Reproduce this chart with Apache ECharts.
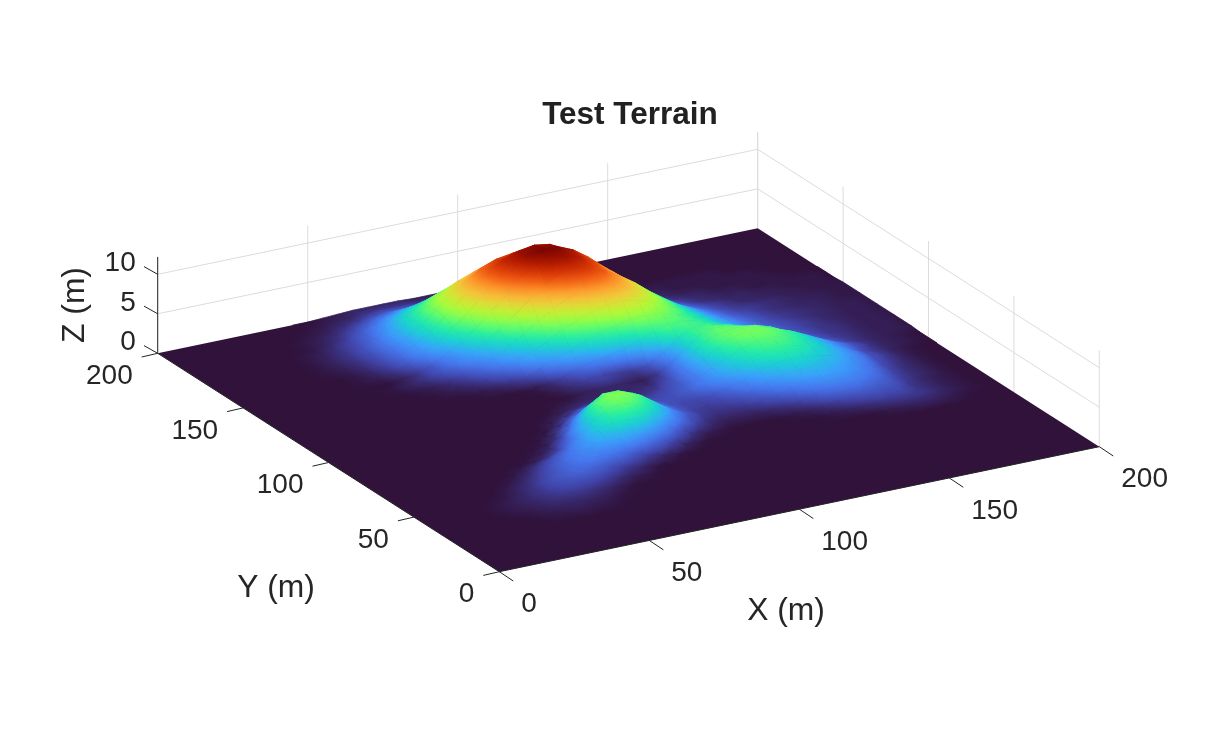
<!DOCTYPE html>
<html>
<head>
<meta charset="utf-8">
<title>Test Terrain</title>
<script src="https://cdn.jsdelivr.net/npm/echarts@6/dist/echarts.min.js"></script>
<style>html,body{margin:0;padding:0;background:#fff}#main{width:1215px;height:731px}</style>
</head>
<body>
<div id="main"></div>
<script>
var xTicks = [0, 50, 100, 150, 200];
var yTicks = [0, 50, 100, 150, 200];
var zTicks = [0, 5, 10];
var gridStep = 5; // metres between the samples of terrainZ
var zTop = 12.2;

// terrain height, one row per Y (0 to 200 m), one value per X
// trailing zeros are left out
var terrainZ = [
[],[],[],[],[],[],
[0,0,0,0,0,0,0,.1,.1,.2,.1,.1],
[0,0,0,0,0,0,.1,.2,.3,.3,.3,.2,.1],
[0,0,0,0,0,.1,.2,.3,.5,.6,.6,.5,.3,.1],
[0,0,0,0,0,.1,.2,.4,.6,.9,1,1,.8,.5,.2,.1],
[0,0,0,0,0,0,.1,.3,.6,1,1.3,1.5,1.4,1.1,.7,.4,.1],
[0,0,0,0,0,0,0,.2,.4,.8,1.2,1.6,1.9,1.9,1.7,1.3,.8,.4,.1,0,0,0,0,0,0,0,0,0,0,0,0,0,.1,.2,.3,.3,.2,.1],
[0,0,0,0,0,0,0,0,.2,.5,1,1.5,2,2.4,2.7,2.7,2.3,1.7,1,.4,.1,0,0,0,0,0,0,0,0,.1,.2,.4,.6,.7,.7,.6,.4,.2,.1],
[0,0,0,0,0,0,0,0,0,.2,.6,1.1,1.7,2.5,3.4,4,4,3.4,2.5,1.5,.7,.2,.1,0,0,0,0,.1,.2,.5,.9,1.1,1.2,1.1,1,.6,.4,.2,.1],
[0,0,0,0,0,0,0,0,0,0,.1,.4,1,2,3.4,4.8,5.3,5,4,2.8,1.7,.9,.4,.2,.2,.2,.3,.5,.9,1.4,1.7,1.8,1.7,1.5,1.2,.7,.4,.2,.1],
[0,0,0,0,0,0,0,0,0,0,0,.1,.4,1.4,3,5,5.7,5.6,4.8,3.5,2.2,1.3,.7,.5,.5,.6,.9,1.3,1.8,2.2,2.4,2.4,2.2,1.9,1.4,.8,.5,.3,.1],
[0,0,0,0,0,0,0,0,0,0,0,0,.1,.6,1.9,3.9,5.1,5.1,4.4,3.2,2,1.2,.8,.7,.8,1.1,1.6,2.2,2.7,3,3.1,2.9,2.6,2.1,1.6,.9,.5,.3,.1],
[0,0,0,0,0,0,0,0,0,0,0,0,0,.2,1,2.3,3.5,3.9,3.4,2.5,1.6,1.1,.9,.9,1.2,1.7,2.3,3,3.5,3.8,3.7,3.4,3,2.4,1.8,1,.6,.3,.1],
[0,0,0,0,0,0,0,0,0,0,0,0,0,0,.3,1.1,2,2.3,2.1,1.6,1.2,1,1.1,1.4,1.9,2.5,3.2,3.9,4.4,4.6,4.4,3.9,3.3,2.6,1.9,1.1,.7,.3,.1],
[0,0,0,0,0,0,0,0,0,0,0,0,0,0,.1,.4,.9,1.2,1.1,.9,.8,.8,1,1.3,1.9,2.8,3.7,4.5,5,5.1,4.8,4.2,3.4,2.6,1.8,1,.6,.3,.1],
[0,0,0,0,0,0,0,0,0,0,0,0,0,0,0,.1,.3,.5,.5,.5,.5,.5,.7,1.2,2,3.2,4.4,5.2,5.5,5.5,5,4.3,3.4,2.5,1.7,1.1,.6,.3,.2,.1],
[0,0,0,0,0,0,0,0,0,0,0,0,0,0,0,0,.1,.2,.3,.3,.3,.4,.4,.9,2,3.5,4.8,5.3,5.4,5.2,4.6,3.7,2.8,2,1.3,.8,.5,.3,.2,.1],
[0,0,0,0,0,0,0,0,0,0,0,0,0,0,0,0,0,0,.2,.3,.4,.3,.2,.6,1.8,3.4,4.7,5.2,4.9,4.4,3.6,2.8,2.1,1.5,1,.7,.5,.3,.2,.2,.1],
[0,0,0,0,0,0,0,0,0,0,0,0,0,0,0,0,0,.2,.5,.8,.9,.7,.6,1.2,2.4,3.9,4.7,4.7,4.3,3.7,3,2.3,1.7,1.2,.9,.6,.5,.3,.2,.2,.1],
[0,0,0,0,0,0,0,0,0,0,0,0,0,0,0,0,.1,.4,1,1.6,2.1,2.6,3,3.6,4.4,4.9,4.9,4.5,3.9,3.2,2.5,2,1.5,1.1,.8,.6,.5,.3,.2,.2,.1],
[0,0,0,0,0,0,0,0,0,0,0,0,0,.1,.2,.5,1,1.8,2.5,3.2,4,4.7,5.2,5.6,5.7,5.5,5.1,4.4,3.7,2.9,2.3,1.7,1.3,1,.8,.6,.4,.3,.2,.2,.1],
[0,0,0,0,0,0,0,0,0,0,0,.1,.2,.4,.9,1.5,2.3,3.1,4.1,5.1,5.9,6.6,7.1,7.2,6.9,6.3,5.5,4.5,3.6,2.8,2.1,1.6,1.2,.9,.7,.5,.4,.3,.2,.2,.1],
[0,0,0,0,0,0,0,0,0,0,.1,.2,.5,1,1.7,2.5,3.5,4.7,6,7.1,8.1,8.7,8.9,8.7,8,7,5.8,4.6,3.5,2.6,1.9,1.4,1.1,.8,.6,.5,.4,.3,.2,.2,.1],
[0,0,0,0,0,0,0,0,0,.1,.3,.6,1.1,1.8,2.6,3.7,5.1,6.5,8,9.2,10.2,10.6,10.4,9.7,8.6,7.3,5.8,4.5,3.3,2.4,1.7,1.2,.9,.7,.5,.4,.3,.3,.2,.1,.1],
[0,0,0,0,0,0,0,0,0,0,.2,.6,1.3,2.3,3.6,5,6.6,8.3,9.8,11,11.6,11.7,11.1,10,8.5,7,5.5,4,2.9,2,1.4,1,.7,.6,.5,.4,.3,.2,.2,.1,.1],
[0,0,0,0,0,0,0,0,.1,.2,.6,1.3,2.2,3.2,4.6,6.2,7.9,9.5,10.9,11.9,12.2,12.1,11.3,10,8.3,6.5,4.7,3.4,2.3,1.6,1.1,.8,.6,.4,.3,.3,.2,.2,.1,.1,.1],
[0,0,0,0,0,0,0,0,.1,.4,.9,1.6,2.5,3.8,5.3,6.9,8.5,10,11.1,11.7,12,11.7,10.6,8.9,6.9,5.2,3.7,2.6,1.7,1.2,.8,.5,.4,.3,.3,.2,.2,.1,.1,.1],
[0,0,0,0,0,0,0,.1,.2,.5,1,1.7,2.7,4,5.5,7,8.4,9.6,10.3,10.6,10.8,10,8.8,7,5.4,3.9,2.7,1.8,1.2,.8,.5,.4,.3,.2,.2,.1,.1,.1,.1,.1],
[0,0,0,0,0,0,0,.1,.3,.6,1.1,1.8,2.8,4,5.3,6.5,7.6,8.3,8.7,8.6,8,7.1,5.9,4.7,3.5,2.5,1.7,1.1,.7,.5,.3,.2,.2,.1,.1,.1,.1,.1],
[0,0,0,0,0,0,0,.1,.3,.6,1,1.6,2.5,3.6,4.6,5.5,6.2,6.6,6.7,6.4,5.8,5,4,3.1,2.3,1.6,1,.6,.4,.2,.2,.1,.1,.1,.1,.1,.1],
[0,0,0,0,0,0,0,.1,.2,.5,.9,1.4,2.1,3,3.7,4.2,4.6,4.8,4.7,4.3,3.8,3.2,2.5,1.8,1.3,.9,.6,.3,.2,.1,.1,.1,.1,.1,.1],
[0,0,0,0,0,0,0,0,.1,.3,.6,1.1,1.6,2.2,2.7,3,3.2,3.2,3,2.7,2.3,1.8,1.4,1,.7,.5,.3,.2,.1,.1],
[0,0,0,0,0,0,0,0,.1,.2,.4,.7,1.1,1.5,1.8,1.9,2,1.9,1.7,1.5,1.3,1,.7,.5,.3,.2,.1,.1],
[0,0,0,0,0,0,0,0,0,.1,.2,.4,.6,.9,1.1,1.1,1.1,1,.9,.8,.6,.5,.3,.2,.2,.1,.1],
[0,0,0,0,0,0,0,0,0,0,.1,.2,.3,.5,.6,.6,.6,.5,.5,.4,.3,.2,.1,.1,.1],
[0,0,0,0,0,0,0,0,0,0,0,.1,.2,.3,.3,.3,.3,.2,.2,.2,.1,.1,.1]
];

// turbo colormap
var turboColors = ['#30123b','#4145ab','#4675ed','#39a2fc','#1bcfd4','#24eca6','#61fc6c','#a4fc3b','#d1e834','#f3c63a','#fe9b2d','#f36315','#d93806','#b11901','#7a0402'];

function hexRgb(h) {
    return [parseInt(h.substr(1, 2), 16), parseInt(h.substr(3, 2), 16), parseInt(h.substr(5, 2), 16)];
}
var turboRgb = turboColors.map(hexRgb);

function colorOf(z) {
    var t = Math.max(0, Math.min(1, z / zTop)) * (turboRgb.length - 1);
    var k = Math.min(Math.floor(t), turboRgb.length - 2);
    var f = t - k, a = turboRgb[k], b = turboRgb[k + 1];
    return 'rgb(' + Math.round(a[0] + (b[0] - a[0]) * f) + ',' + Math.round(a[1] + (b[1] - a[1]) * f) + ',' + Math.round(a[2] + (b[2] - a[2]) * f) + ')';
}

// orthographic view of the MATLAB axes box, result is in the hidden pixel axes below
function project(x, y, z) {
    return [499.3 + 3 * x - 1.708 * y, 571.7 - 0.625 * x - 1.092 * y - 7.9 * z];
}

function heightAt(i, j) {
    return terrainZ[j][i] || 0;
}

// far cells first so the near ones paint over them
var cells = [];
for (var j = terrainZ.length - 2; j >= 0; j--) {
    for (var i = 39; i >= 0; i--) {
        cells.push([i, j]);
    }
}

function cellFill(pts, zs) {
    var lo = Math.min.apply(null, zs), hi = Math.max.apply(null, zs);
    var mid = (zs[0] + zs[1] + zs[2] + zs[3]) / 4;
    if (hi - lo < 0.01) return colorOf(mid);
    var c = [(pts[0][0] + pts[2][0]) / 2, (pts[0][1] + pts[2][1]) / 2];
    // plane through the two diagonals gives the gradient direction on screen
    var ax = pts[2][0] - pts[0][0], ay = pts[2][1] - pts[0][1], az = zs[2] - zs[0];
    var bx = pts[3][0] - pts[1][0], by = pts[3][1] - pts[1][1], bz = zs[3] - zs[1];
    var det = ax * by - ay * bx;
    if (Math.abs(det) < 8) return colorOf(mid);
    var gx = (az * by - ay * bz) / det, gy = (ax * bz - az * bx) / det;
    var g2 = gx * gx + gy * gy;
    if (g2 < 1e-9) return colorOf(mid);
    var stops = [];
    for (var k = 0; k <= 4; k++) {
        stops.push({offset: k / 4, color: colorOf(lo + (hi - lo) * k / 4)});
    }
    return new echarts.graphic.LinearGradient(
        c[0] + gx * (lo - mid) / g2, c[1] + gy * (lo - mid) / g2,
        c[0] + gx * (hi - mid) / g2, c[1] + gy * (hi - mid) / g2,
        stops, true);
}

function renderCell(params, api) {
    var i = api.value(0), j = api.value(1);
    var corners = [[i, j], [i + 1, j], [i + 1, j + 1], [i, j + 1]];
    var zs = corners.map(function (c) { return heightAt(c[0], c[1]); });
    if (Math.max.apply(null, zs) === 0) return null; // flat floor is already painted
    var pts = corners.map(function (c, n) {
        return api.coord(project(c[0] * gridStep, c[1] * gridStep, zs[n]));
    });
    var fill = cellFill(pts, zs);
    return {
        type: 'polygon',
        shape: {points: pts},
        style: {fill: fill, stroke: fill, lineWidth: 0.8}
    };
}

function segment(api, a, b, color, width) {
    var p = api.coord(a), q = api.coord(b);
    return {
        type: 'line',
        shape: {x1: p[0], y1: p[1], x2: q[0], y2: q[1]},
        style: {stroke: color, lineWidth: width}
    };
}

function renderWalls(params, api) {
    var kids = [], wall = '#dcdcdc';
    xTicks.forEach(function (v) {
        kids.push(segment(api, project(v, 200, 0), project(v, 200, zTop), wall, 1));
    });
    yTicks.forEach(function (v) {
        kids.push(segment(api, project(200, v, 0), project(200, v, zTop), wall, 1));
    });
    zTicks.forEach(function (v) {
        if (v === 0) return;
        kids.push(segment(api, project(0, 200, v), project(200, 200, v), wall, 1));
        kids.push(segment(api, project(200, 200, v), project(200, 0, v), wall, 1));
    });
    kids.push({
        type: 'polygon',
        shape: {points: [[0, 0], [200, 0], [200, 200], [0, 200]].map(function (c) {
            return api.coord(project(c[0], c[1], 0));
        })},
        style: {fill: turboColors[0]}
    });
    return {type: 'group', children: kids};
}

function tickLabel(api, text, at, dx, dy, align) {
    var p = api.coord(at);
    return {
        type: 'text',
        x: p[0] + dx,
        y: p[1] + dy,
        style: {text: text, fill: '#262626', font: '28px "Liberation Sans"', textAlign: align, textVerticalAlign: 'middle'}
    };
}

function axisTitle(api, text, at, rotation) {
    var p = api.coord(at);
    return {
        type: 'text',
        x: p[0],
        y: p[1],
        rotation: rotation,
        style: {text: text, fill: '#262626', font: '31.8px "Liberation Sans"', textAlign: 'center', textVerticalAlign: 'middle'}
    };
}

function renderAxes(params, api) {
    var dark = '#262626';
    var kids = [
        segment(api, project(0, 0, 0), project(200, 0, 0), dark, 1),
        segment(api, project(0, 0, 0), project(0, 200, 0), dark, 1),
        segment(api, project(0, 200, 0), project(0, 200, zTop), dark, 1)
    ];
    xTicks.forEach(function (v) {
        var p = project(v, 0, 0);
        kids.push(segment(api, p, [p[0] + 14, p[1] + 9.3], dark, 1));
        kids.push(tickLabel(api, String(v), p, 22, 33, 'left'));
    });
    yTicks.forEach(function (v) {
        var p = project(0, v, 0);
        kids.push(segment(api, p, [p[0] - 16, p[1] + 3.7], dark, 1));
        kids.push(tickLabel(api, String(v), p, -25, 23, 'right'));
    });
    zTicks.forEach(function (v) {
        var p = project(0, 200, v);
        kids.push(segment(api, p, [p[0] - 13.7, p[1] - 7.7], dark, 1));
        kids.push(tickLabel(api, String(v), p, -22, -11, 'right'));
    });
    kids.push(axisTitle(api, 'X (m)', [786, 611], 0));
    kids.push(axisTitle(api, 'Y (m)', [276, 588], 0));
    kids.push(axisTitle(api, 'Z (m)', [75, 305], Math.PI / 2));
    return {type: 'group', children: kids};
}

var box = echarts.init(document.getElementById('main'), null, {renderer: 'canvas'});

var option = {
    animation: false,
    backgroundColor: '#fff',
    title: {
        text: 'Test Terrain',
        left: 625,
        top: 94,
        textAlign: 'center',
        textStyle: {fontFamily: 'Liberation Sans', fontSize: 31.5, fontWeight: 'bold', color: '#212121'}
    },
    grid: {left: 0, right: 0, top: 0, bottom: 0},
    xAxis: {type: 'value', min: 0, max: 1215, show: false},
    yAxis: {type: 'value', min: 0, max: 731, inverse: true, show: false},
    series: [
        {
            type: 'custom',
            silent: true,
            clip: false,
            z: 1,
            renderItem: renderWalls,
            data: [[0, 0]]
        },
        {
            type: 'custom',
            silent: true,
            clip: false,
            z: 2,
            progressive: 0,
            renderItem: renderCell,
            encode: {x: 0, y: 1},
            data: cells
        },
        {
            type: 'custom',
            silent: true,
            clip: false,
            z: 3,
            renderItem: renderAxes,
            data: [[0, 0]]
        }
    ]
};
box.setOption(option);
</script>
</body>
</html>
